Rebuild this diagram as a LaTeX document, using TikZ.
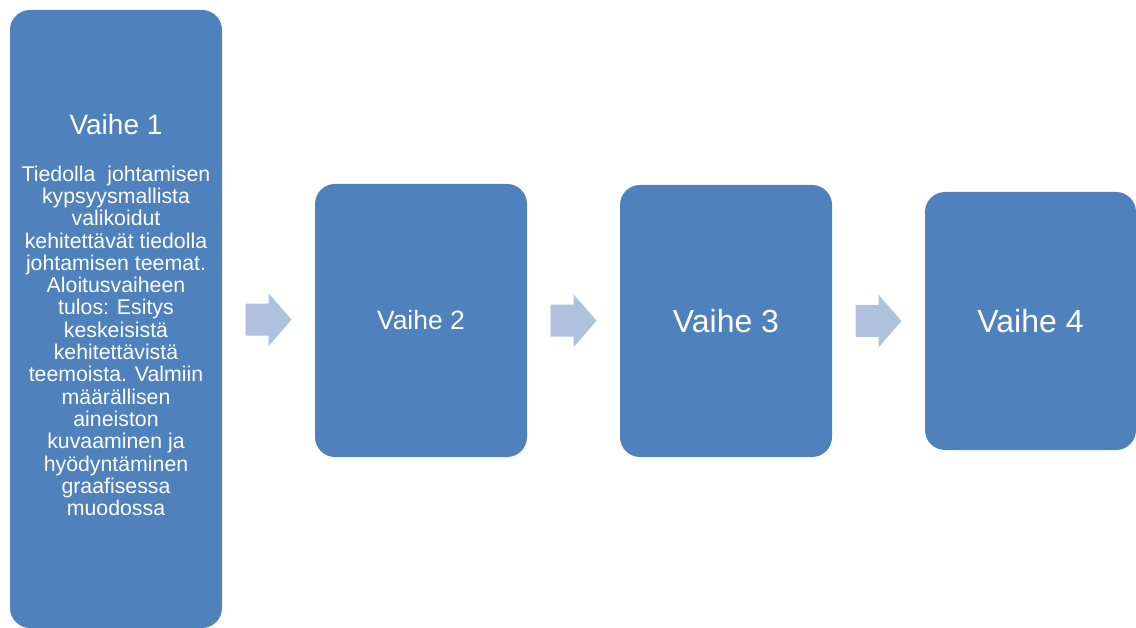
\documentclass[tikz,border=0pt]{standalone}
\usepackage{fontspec}
\setmainfont{Liberation Sans}
\usetikzlibrary{calc}
\definecolor{boxblue}{HTML}{4F81BD}
\definecolor{arrowblue}{HTML}{B0C1DE}
\begin{document}
\begin{tikzpicture}[x=1pt,y=-1pt,
  stage/.style={fill=boxblue,draw=none,rounded corners=20pt,inner sep=0pt,text=white,align=center},
  blockarrow/.style={fill=arrowblue,draw=none}]
\useasboundingbox (0,0) rectangle (1136,628);
\fill[white] (0,0) rectangle (1136,628);
% boxes
\node[stage,minimum width=212pt,minimum height=618pt] (b1) at (116,319) {};
\node[stage,minimum width=212pt,minimum height=273pt,font=\fontsize{26.5}{30}\selectfont] (b2) at (421,320.5) {Vaihe 2};
\node[stage,minimum width=212pt,minimum height=272pt,font=\fontsize{32}{36}\selectfont] (b3) at (726,321) {Vaihe 3};
\node[stage,minimum width=211pt,minimum height=258pt,font=\fontsize{32}{36}\selectfont] (b4) at (1030.5,321) {Vaihe 4};
% box 1 texts
\node[text=white,font=\fontsize{28}{32}\selectfont,anchor=base,inner sep=0pt] (t1) at (116,135) {Vaihe 1};
\node[text=white,font=\fontsize{21.3}{22.3}\selectfont,align=center,anchor=north,inner sep=0pt] (d1) at (116,165.5)
 {Tiedolla\ \ johtamisen\\kypsyysmallista\\valikoidut\\kehitettävät tiedolla\\johtamisen teemat.\\Aloitusvaiheen\\tulos: Esitys\\keskeisistä\\kehitettävistä\\teemoista. Valmiin\\määrällisen\\aineiston\\kuvaaminen ja\\hyödyntäminen\\graafisessa\\muodossa};
% block arrows
\foreach \a/\b/\n in {b1/b2/a1,b2/b3/a2,b3/b4/a3}{
  \coordinate (\n) at ($(\a.east)!0.5!(\b.west)$);
  \fill[blockarrow] ($(\n)+(-23,-16)$) -- ($(\n)+(0,-16)$) -- ($(\n)+(0,-26.5)$) -- ($(\n)+(23,0)$)
     -- ($(\n)+(0,26.5)$) -- ($(\n)+(0,16)$) -- ($(\n)+(-23,16)$) -- cycle;
}
\end{tikzpicture}
\end{document}
